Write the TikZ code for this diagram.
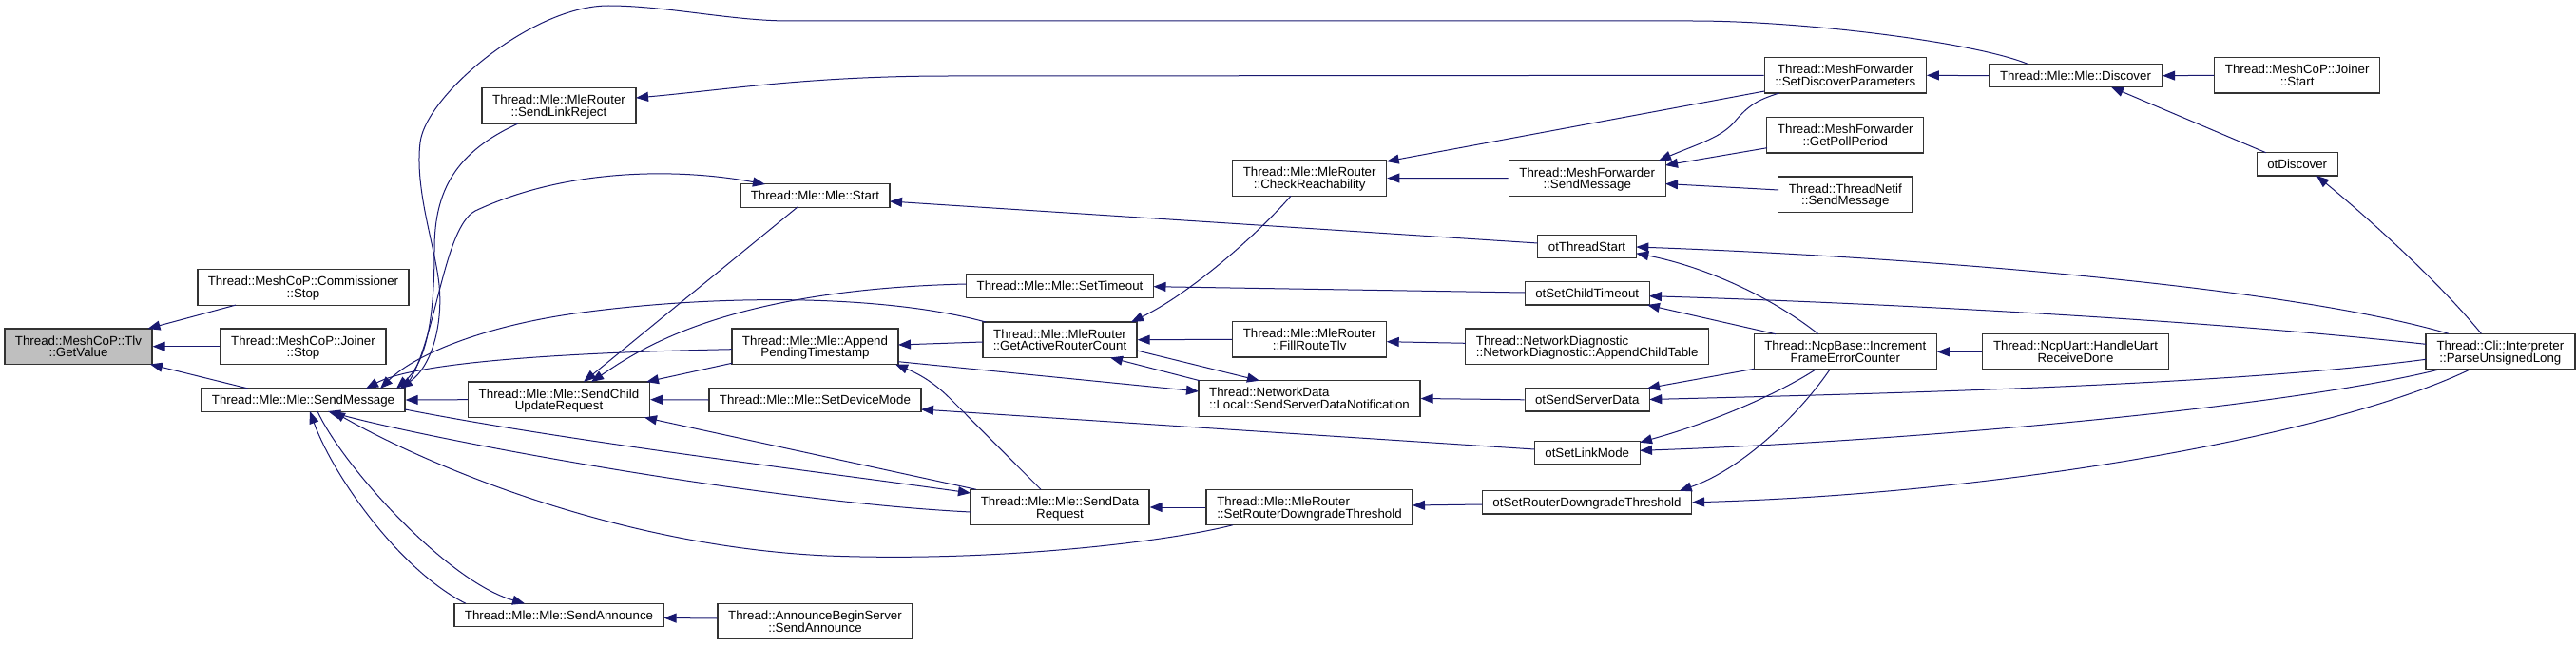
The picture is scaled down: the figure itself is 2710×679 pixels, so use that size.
\documentclass[tikz,border=0pt]{standalone}
\usepackage{fontspec}
\setmainfont{Liberation Sans}
\usetikzlibrary{arrows.meta,calc}
\definecolor{edgeblue}{HTML}{191970}
\definecolor{rootfill}{HTML}{BFBFBF}
\newcommand\nfont{\fontsize{13.3}{12.8}\selectfont}
\begin{document}
\begin{tikzpicture}[x=1pt,y=-1pt,
  >={Triangle[length=13pt,width=10pt]},
  box/.style={draw=black!80, line width=1.2pt, fill=white, font=\nfont, inner xsep=10pt, inner ysep=0pt, align=center},
  one/.style={box, minimum height=24.3pt, text height=9.5pt, text depth=0pt},
  two/.style={box, minimum height=37.5pt, text height=22.3pt, text depth=0pt},
  twol/.style={two, align=left},
  root/.style={two, fill=rootfill},
  edge/.style={draw=edgeblue, line width=1pt, <-}
]
\useasboundingbox (0,0) rectangle (2710,679);

% ---- nodes ----
\node[root, minimum width=155pt] (getvalue) at (82.5,364.7) {Thread::MeshCoP::Tlv\\::GetValue};
\node[two, minimum width=222pt] (commstop) at (319,302.6) {Thread::MeshCoP::Commissioner\\::Stop};
\node[two, minimum width=174pt] (joinstop) at (319,364.7) {Thread::MeshCoP::Joiner\\::Stop};
\node[one, minimum width=214pt] (sendmsg) at (319,421) {Thread::Mle::Mle::SendMessage};
\node[two, minimum width=162pt] (linkrej) at (588,111.5) {Thread::Mle::MleRouter\\::SendLinkReject};
\node[two, minimum width=191pt] (childupd) at (588,420.7) {Thread::Mle::Mle::SendChild\\UpdateRequest};
\node[one, minimum width=220pt] (announce) at (588,647.5) {Thread::Mle::Mle::SendAnnounce};
\node[one, minimum width=157pt] (start) at (857.4,206) {Thread::Mle::Mle::Start};
\node[two, minimum width=175pt] (append) at (857.5,364.7) {Thread::Mle::Mle::Append\\PendingTimestamp};
\node[one, minimum width=223pt] (devmode) at (857.4,421) {Thread::Mle::Mle::SetDeviceMode};
\node[two, minimum width=205pt] (abserver) at (857.5,654) {Thread::AnnounceBeginServer\\::SendAnnounce};
\node[one, minimum width=197pt] (settimeout) at (1115,301) {Thread::Mle::Mle::SetTimeout};
\node[two, minimum width=162pt] (getactive) at (1115,357.7) {Thread::Mle::MleRouter\\::GetActiveRouterCount};
\node[two, minimum width=188pt] (senddata) at (1115,534) {Thread::Mle::Mle::SendData\\Request};
\node[two, minimum width=162pt] (checkreach) at (1377.7,187.5) {Thread::Mle::MleRouter\\::CheckReachability};
\node[two, minimum width=162pt] (fillroute) at (1377.7,357.3) {Thread::Mle::MleRouter\\::FillRouteTlv};
\node[twol, minimum width=233pt] (localsrv) at (1377.5,419.5) {Thread::NetworkData\\::Local::SendServerDataNotification};
\node[twol, minimum width=217pt] (setrdt) at (1377.5,534) {Thread::Mle::MleRouter\\::SetRouterDowngradeThreshold};
\node[two, minimum width=165pt] (mfsend) at (1669.7,187.7) {Thread::MeshForwarder\\::SendMessage};
\node[one, minimum width=104pt] (otstart) at (1669.5,259.7) {otThreadStart};
\node[one, minimum width=131pt] (otchildto) at (1669.7,308.8) {otSetChildTimeout};
\node[twol, minimum width=256pt] (appchild) at (1669.7,364.7) {Thread::NetworkDiagnostic\\::NetworkDiagnostic::AppendChildTable};
\node[one, minimum width=131pt] (otsendsrv) at (1669.7,420.8) {otSendServerData};
\node[one, minimum width=111pt] (otlinkmode) at (1669.7,476.8) {otSetLinkMode};
\node[one, minimum width=220pt] (otrdt) at (1669.5,528.8) {otSetRouterDowngradeThreshold};
\node[two, minimum width=170pt] (setdisc) at (1941.3,79.3) {Thread::MeshForwarder\\::SetDiscoverParameters};
\node[two, minimum width=165pt] (pollper) at (1941.3,142.3) {Thread::MeshForwarder\\::GetPollPeriod};
\node[two, minimum width=141pt] (netifsend) at (1941.3,204.7) {Thread::ThreadNetif\\::SendMessage};
\node[two, minimum width=192pt] (ncpbase) at (1941.3,370.3) {Thread::NcpBase::Increment\\FrameErrorCounter};
\node[one, minimum width=182pt] (discover) at (2183.5,79.7) {Thread::Mle::Mle::Discover};
\node[two, minimum width=196pt] (ncpuart) at (2183.5,370.3) {Thread::NcpUart::HandleUart\\ReceiveDone};
\node[two, minimum width=174pt] (joinstart) at (2416.7,79.3) {Thread::MeshCoP::Joiner\\::Start};
\node[one, minimum width=85pt] (otdiscover) at (2416.7,172.8) {otDiscover};
\node[two, minimum width=157pt] (parse) at (2630.4,370.3) {Thread::Cli::Interpreter\\::ParseUnsignedLong};

% ---- edges (arrow at callee) ----
\draw[edge] ($(getvalue)+(73,-18.7)$) -- ($(commstop)+(-71,18.5)$);
\draw[edge] (getvalue.east) -- (joinstop.west);
\draw[edge] ($(getvalue)+(75.5,18.8)$) -- ($(sendmsg)+(-58,-12)$);
\draw[edge] (sendmsg.east) -- (childupd.west);
\draw[edge] ($(sendmsg)+(98,-12)$) .. controls (450,380) and (457,330) .. (457,262) .. controls (457,200) and (480,160) .. ($(linkrej)+(-43.4,18.8)$);
\draw[edge] ($(sendmsg)+(102,-12)$) .. controls (455,385) and (466,340) .. (462,300) .. controls (458,260) and (436,200) .. (442,150) .. controls (448,100) and (560,6) .. (640,6) .. controls (700,6) and (770,22) .. (830,22) -- (1780,22) .. controls (1900,22) and (2080,45) .. ($(discover)+(-49.5,-12)$);
\draw[edge] ($(start)+(-52.4,-12)$) .. controls (720,178) and (600,175) .. (500,222) .. controls (465,240) and (458,370) .. ($(sendmsg)+(106,-12)$);
\draw[edge] ($(sendmsg)+(81,-12)$) .. controls (440,370) and (520,340) .. (620,328) .. controls (760,310) and (930,310) .. ($(getactive)+(-78,-18.7)$);
\draw[edge] ($(sendmsg)+(66,-12)$) .. controls (430,385) and (550,372) .. ($(append)+(-87.5,3)$);
\draw[edge] ($(senddata)+(-94,-15)$) .. controls (850,495) and (600,465) .. ($(sendmsg)+(107,10)$);
\draw[edge] ($(sendmsg)+(26,12)$) .. controls (450,462) and (800,528) .. ($(senddata)+(-94,5)$);
\draw[edge] ($(sendmsg)+(31,12)$) .. controls (450,490) and (650,575) .. (870,585) .. controls (1050,592) and (1230,570) .. ($(setrdt)+(-80.5,18.7)$);
\draw[edge] ($(announce)+(-36,-12.2)$) .. controls (470,612) and (360,490) .. ($(sendmsg)+(15,12)$);
\draw[edge] ($(sendmsg)+(7,12)$) .. controls (350,500) and (420,600) .. ($(announce)+(-98,-12.2)$);
\draw[edge] ($(announce.east)+(0,3)$) -- ($(abserver.west)+(0,-3)$);
\draw[edge] (childupd.east) -- (devmode.west);
\draw[edge] ($(childupd)+(26,-18.7)$) -- ($(start)+(-18.4,12)$);
\draw[edge] ($(childupd)+(34,-18.7)$) .. controls (670,370) and (760,305) .. ($(settimeout)+(-98.5,-2)$);
\draw[edge] ($(childupd)+(92,-18.7)$) -- ($(append)+(-87.5,17.6)$);
\draw[edge] ($(childupd)+(90,18.8)$) -- ($(senddata)+(-88,-18.7)$);
\draw[edge] ($(start)+(78.6,6)$) -- ($(otstart)+(-51.8,-3.7)$);
\draw[edge] ($(append)+(87.5,-1.7)$) -- ($(getactive)+(-81,2.3)$);
\draw[edge] ($(append)+(84.5,18.8)$) .. controls (970,395) and (985,405) .. (1000,420) -- ($(senddata)+(-20,-18.7)$);
\draw[edge] ($(devmode)+(111.6,10)$) -- ($(otlinkmode)+(-55.4,-3.8)$);
\draw[edge] ($(localsrv)+(-116.5,-7.5)$) -- ($(append)+(87.5,16)$);
\draw[edge] ($(localsrv)+(-52.5,-18.8)$) -- ($(getactive)+(81,11.3)$);
\draw[edge] ($(getactive)+(53,18.8)$) -- ($(localsrv)+(-115.5,-18.8)$);
\draw[edge] (getactive.east) -- (fillroute.west);
\draw[edge] ($(getactive)+(75,-18.7)$) .. controls (1250,310) and (1320,250) .. ($(checkreach)+(-19.7,18.8)$);
\draw[edge] ($(settimeout)+(98.5,0.7)$) -- ($(otchildto)+(-65.7,-0.8)$);
\draw[edge] (senddata.east) -- (setrdt.west);
\draw[edge] ($(checkreach)+(81,-17.5)$) -- ($(setdisc)+(-85,16.7)$);
\draw[edge] (checkreach.east) -- (mfsend.west);
\draw[edge] ($(fillroute)+(81,2.4)$) -- ($(appchild)+(-128,-3.4)$);
\draw[edge] (localsrv.east) -- (otsendsrv.west);
\draw[edge] ($(setrdt)+(108.5,-2)$) -- ($(otrdt)+(-110.2,2.2)$);
\draw[edge] ($(linkrej)+(81,-8.5)$) .. controls (760,95) and (850,80) .. (1000,80) -- (setdisc.west);
\draw[edge] ($(mfsend)+(75.3,-18.7)$) .. controls (1790,150) and (1810,145) .. (1825,128) .. controls (1840,110) and (1850,105) .. ($(setdisc)+(-69.6,18.7)$);
\draw[edge] ($(mfsend)+(82.3,-13.7)$) -- ($(pollper)+(-82.3,13.4)$);
\draw[edge] ($(mfsend)+(82.3,5.8)$) -- ($(netifsend)+(-70.3,-4.7)$);
\draw[edge] (setdisc.east) -- (discover.west);
\draw[edge] (discover.east) -- (joinstart.west);
\draw[edge] ($(discover)+(37.5,12)$) -- ($(otdiscover)+(-33,-12.1)$);
\draw[edge] ($(otdiscover)+(20.3,12.2)$) .. controls (2480,220) and (2560,290) .. ($(parse)+(-20,-19)$);
\draw[edge] ($(otstart)+(51.8,0.3)$) .. controls (2000,270) and (2400,300) .. ($(parse)+(-54.4,-19)$);
\draw[edge] ($(otstart)+(51.8,7)$) .. controls (1790,280) and (1860,310) .. ($(ncpbase)+(-28.3,-18.6)$);
\draw[edge] ($(otchildto)+(65.3,2.9)$) .. controls (1950,318) and (2300,335) .. ($(parse)+(-78.4,-8)$);
\draw[edge] ($(otchildto)+(63.3,12.2)$) -- ($(ncpbase)+(-73.3,-18.6)$);
\draw[edge] ($(otsendsrv)+(63.3,-12.1)$) -- ($(ncpbase)+(-96,18)$);
\draw[edge] ($(otsendsrv)+(65.6,-0.3)$) .. controls (2000,414) and (2350,405) .. ($(parse)+(-78.4,8)$);
\draw[edge] ($(otlinkmode)+(55.3,-11.1)$) .. controls (1800,445) and (1870,415) .. ($(ncpbase)+(-31.3,18.7)$);
\draw[edge] ($(otlinkmode)+(55.3,-2.5)$) .. controls (2000,465) and (2400,430) .. ($(parse)+(-64.4,18.7)$);
\draw[edge] ($(otrdt)+(97.2,-12.1)$) .. controls (1830,495) and (1890,440) .. ($(ncpbase)+(-16.3,18.7)$);
\draw[edge] (otrdt.east) .. controls (2100,520) and (2450,460) .. ($(parse)+(-32,18.7)$);
\draw[edge] (ncpbase.east) -- (ncpuart.west);
\end{tikzpicture}
\end{document}
